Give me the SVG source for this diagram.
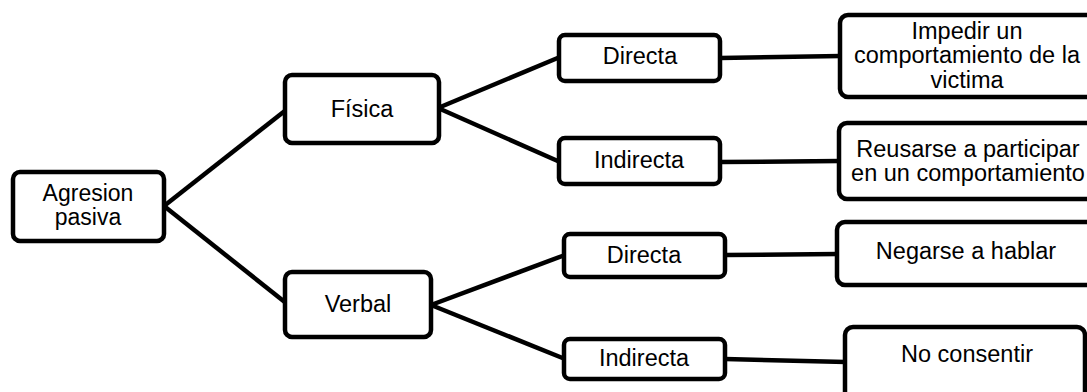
<svg xmlns="http://www.w3.org/2000/svg" width="1087" height="392" viewBox="0 0 1087 392">
<style>
.box{fill:#fff;stroke:#000;stroke-width:4.5}
.lbl{font-family:"Liberation Sans",Arial,sans-serif;font-size:23.5px;fill:#000;text-anchor:middle}
.sm{font-size:23px}
.con{stroke:#000;stroke-width:4.5;fill:none;stroke-linecap:butt}
</style>
<rect width="1087" height="392" fill="#fff"/>
<g id="connectors">
<line class="con" x1="164" y1="206" x2="286" y2="110"/>
<line class="con" x1="164" y1="206" x2="286" y2="303"/>
<line class="con" x1="438" y1="108" x2="560" y2="57"/>
<line class="con" x1="438" y1="108" x2="560" y2="162"/>
<line class="con" x1="431" y1="305" x2="565" y2="255"/>
<line class="con" x1="431" y1="305" x2="565" y2="359"/>
<line class="con" x1="720" y1="58" x2="841" y2="56"/>
<line class="con" x1="720" y1="162" x2="840" y2="161"/>
<line class="con" x1="725" y1="255" x2="838" y2="254"/>
<line class="con" x1="725" y1="359" x2="846" y2="362"/>
</g>
<g id="agresion">
<rect class="box" x="13" y="172" width="151" height="69" rx="7"/>
<text class="lbl sm" x="88" y="201">Agresion</text>
<text class="lbl sm" x="88" y="225">pasiva</text>
</g>
<g id="fisica">
<rect class="box" x="285" y="75" width="154" height="68" rx="7"/>
<text class="lbl" x="362" y="117">Física</text>
</g>
<g id="verbal">
<rect class="box" x="285" y="272" width="146" height="65" rx="7"/>
<text class="lbl" x="358" y="312">Verbal</text>
</g>
<g id="directa1">
<rect class="box" x="559" y="35" width="161" height="46" rx="6"/>
<text class="lbl" x="640" y="64">Directa</text>
</g>
<g id="indirecta1">
<rect class="box" x="559" y="138" width="161" height="46" rx="6"/>
<text class="lbl" x="639" y="168">Indirecta</text>
</g>
<g id="directa2">
<rect class="box" x="564" y="234" width="161" height="43" rx="6"/>
<text class="lbl" x="644" y="263">Directa</text>
</g>
<g id="indirecta2">
<rect class="box" x="564" y="339" width="161" height="40" rx="6"/>
<text class="lbl" x="644" y="366">Indirecta</text>
</g>
<g id="impedir">
<rect class="box" x="840" y="15" width="257" height="82" rx="8"/>
<text class="lbl" x="967" y="39">Impedir un</text>
<text class="lbl" x="967" y="63">comportamiento de la</text>
<text class="lbl" x="967" y="88">victima</text>
</g>
<g id="reusarse">
<rect class="box" x="839" y="123" width="258" height="76" rx="8"/>
<text class="lbl" x="968" y="157">Reusarse a participar</text>
<text class="lbl" x="968" y="181">en un comportamiento</text>
</g>
<g id="negarse">
<rect class="box" x="837" y="222" width="258" height="63" rx="8"/>
<text class="lbl" x="966" y="259">Negarse a hablar</text>
</g>
<g id="noconsentir">
<rect class="box" x="845" y="327" width="240" height="80" rx="8"/>
<text class="lbl" x="967" y="362">No consentir</text>
</g>
</svg>
